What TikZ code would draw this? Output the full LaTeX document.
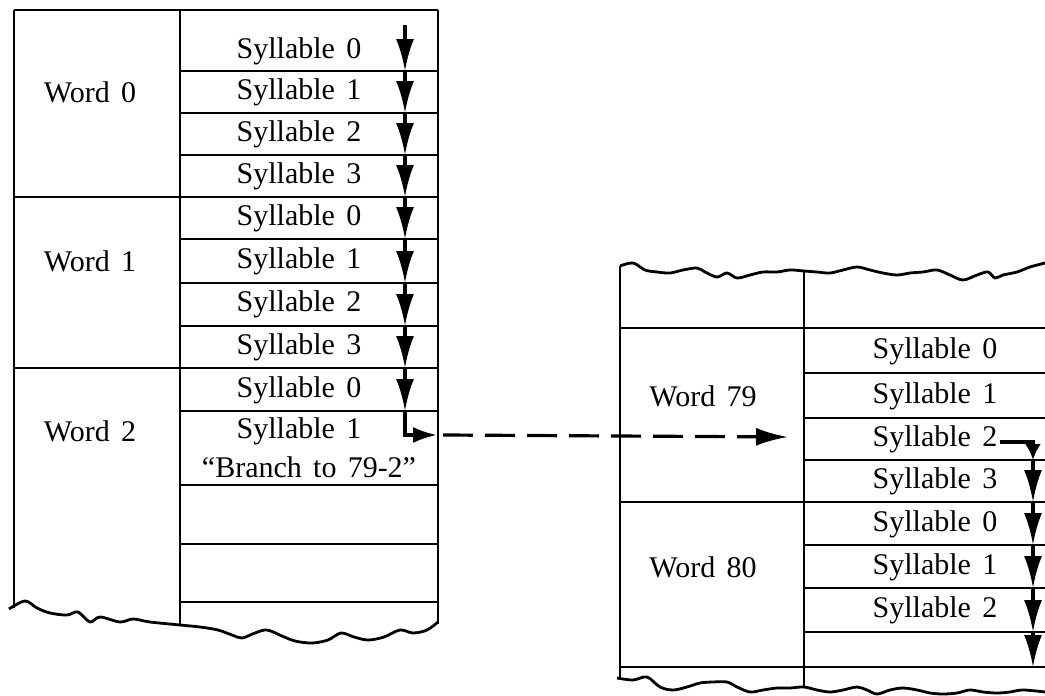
\documentclass[tikz,border=0pt]{standalone}
\usepackage{fontspec}
\setmainfont{Liberation Serif}[WordSpace=1.5]
\usepackage{tikz}
\usetikzlibrary{arrows.meta,positioning}

\tikzset{
  rule/.style={line width=1pt},
  torn/.style={line width=1.4pt, smooth, tension=0.55},
  flow/.style={-{Latex[length=16pt,width=9pt]}, line width=1.6pt},
  celltext/.style={font=\fontsize{15}{18}\selectfont, inner sep=0pt}
}

\begin{document}
\begin{tikzpicture}[x=0.5pt,y=-0.5pt]
  \useasboundingbox (0,0) rectangle (1045,696);
  % left block: words 0..2
  \draw[rule] (14,10) -- (438,10);
  \draw[rule] (14,10) -- (14,608);
  \draw[rule] (180,10) -- (180,624);
  \draw[rule] (438,10) -- (438,624);
  \draw[rule] (14,197) -- (180,197);
  \draw[rule] (14,368) -- (180,368);
  \foreach \y in {71,113,155,197,239,283,326,368,411,485,544,602}
    \draw[rule] (180,\y) -- (438,\y);
  % torn lower edge
  \draw[torn] plot coordinates {(9,609) (25,601) (37,608) (50,613) (67,615)
    (78,612) (90,622) (100,617) (120,622) (133,619) (150,622) (180,625)
    (200,627) (218,630) (232,635) (242,638) (255,633) (267,630) (282,636)
    (295,641) (312,643) (328,640) (341,633) (354,637) (368,640) (384,637)
    (400,630) (413,633) (427,630) (438,622)};

  % word labels
  \node[celltext] (w0) at (90,92) {Word 0};
  \node[celltext] (w1) at (90,261) {Word 1};
  \node[celltext] (w2) at (90,431) {Word 2};
  % syllables
  \foreach \t/\y [count=\i] in {0/51,1/92,2/134,3/176,0/218,1/261,2/304,3/347,0/390,1/431}
    \node[celltext] (ls\i) at (299,\y) {Syllable \t};
  \node[celltext] (branch) at (309,467) {“Branch to 79-2”};

  % sequential flow, left block
  \foreach \a/\b in {25/71,71/113,113/155,155/197,197/239,239/283,283/326,326/368,368/411}
    \draw[flow] (405,\a) -- (405,\b);
  \coordinate (jump) at (437,435);
  \draw[flow, -{Latex[length=12pt,width=8pt]}] (405,411) |- (jump);

  % right block: words 79, 80
  \draw[rule] (620,266) -- (620,678);
  \draw[rule] (804,271) -- (804,687);
  \foreach \y in {328,502,667}
    \draw[rule] (620,\y) -- (1045,\y);
  \foreach \y in {373,418,460,545,588,632}
    \draw[rule] (804,\y) -- (1045,\y);
  % torn upper edge
  \draw[torn] plot coordinates {(620,266) (633,263) (645,270) (657,272)
    (670,273) (683,270) (697,268) (705,272) (717,277) (727,273) (737,278)
    (750,275) (763,272) (777,272) (790,270) (804,271) (817,272) (830,273)
    (843,270) (857,267) (870,270) (883,273) (897,275) (910,273) (923,272)
    (937,270) (950,275) (963,280) (977,275) (988,272) (995,278) (1003,275)
    (1017,272) (1030,267) (1045,263)};
  % torn lower edge
  \draw[torn] plot coordinates {(617,678) (633,680) (647,677) (660,687)
    (673,690) (687,687) (700,683) (713,682) (727,682) (737,687) (750,692)
    (763,690) (777,688) (790,688) (804,687) (817,690) (830,692) (843,690)
    (857,687) (867,690) (877,694) (890,690) (903,688) (917,690) (930,693)
    (943,694) (957,693) (970,690) (983,692) (997,693) (1010,692) (1023,690)
    (1045,692)};

  \node[celltext] (w79) at (703,396) {Word 79};
  \node[celltext] (w80) at (703,567) {Word 80};
  \foreach \t/\y [count=\i] in {0/351,1/396,2/439,3/481,0/524,1/567,2/610}
    \node[celltext] (rs\i) at (935,\y) {Syllable \t};

  % branch to 79-2
  \coordinate (land) at (788,437);
  \draw[flow, dash pattern=on 15pt off 6pt] ([xshift=3pt]jump) -- (land);

  % sequential flow, right block
  \draw[line width=1.6pt, -{Latex[length=8pt,width=8pt]}]
    ([xshift=1pt,yshift=-1.5pt]rs3.east) -| (1033,460);
  \foreach \a/\b in {460/502,502/545,545/588,588/632,632/667}
    \draw[flow] (1033,\a) -- (1033,\b);
\end{tikzpicture}
\end{document}
